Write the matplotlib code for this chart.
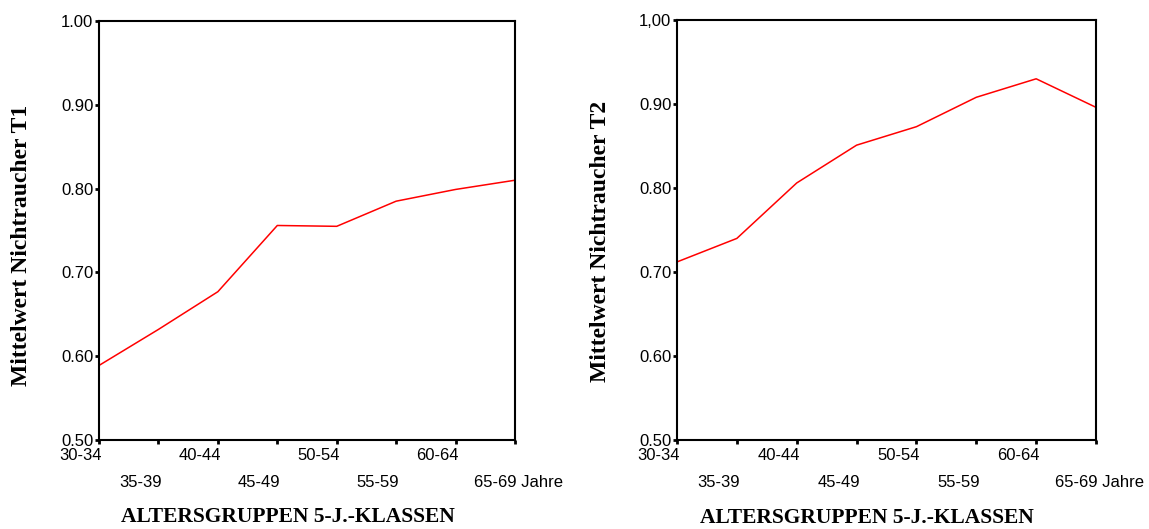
import matplotlib.pyplot as plt
from matplotlib.transforms import offset_copy

altersgruppen = ['30-34', '35-39', '40-44', '45-49', '50-54', '55-59', '60-64', '65-69 Jahre']
nichtraucher_t1 = [0.589, 0.632, 0.677, 0.756, 0.755, 0.785, 0.799, 0.810]
nichtraucher_t2 = [0.712, 0.740, 0.806, 0.851, 0.873, 0.908, 0.930, 0.896]
yticks = [0.5, 0.6, 0.7, 0.8, 0.9, 1.0]
yticklabels_t1 = ['0.50', '0.60', '0.70', '0.80', '0.90', '1.00']
yticklabels_t2 = ['0.50', '0.60', '0.70', '0.80', '0.90', '1,00']

serif = ['Liberation Serif', 'DejaVu Serif']
sans = ['Liberation Sans', 'DejaVu Sans']

fig = plt.figure(figsize=(11.49, 5.29), dpi=100)
ax1 = fig.add_axes([0.0862, 0.1682, 0.3620, 0.7921])
ax2 = fig.add_axes([0.5892, 0.1682, 0.3647, 0.7940])


def draw_panel(ax, values, ylabels, ylabel, ylab_x, ylab_y):
    x = list(range(len(altersgruppen)))
    ax.plot(x, values, color='#ff0000', linewidth=1.1)
    ax.set_xlim(0, len(altersgruppen) - 1)
    ax.set_ylim(0.5, 1.0)
    ax.set_yticks(yticks)
    ax.set_yticklabels(ylabels, fontfamily=sans, fontsize=12)
    ax.set_xticks(x)
    ax.set_xticklabels([])
    ax.tick_params(axis='both', direction='out', length=3, width=2, color='black', pad=1)
    for sp in ax.spines.values():
        sp.set_linewidth(1.5)
        sp.set_color('black')
    # staggered category labels, shifted left of their ticks
    for i, lab in enumerate(altersgruppen):
        row = i % 2
        if i == len(altersgruppen) - 1:
            tr = offset_copy(ax.get_xaxis_transform(), fig=fig, x=-41, y=-42, units='dots')
            ax.text(i, 0, lab, transform=tr, ha='left', va='center',
                    fontfamily=sans, fontsize=12)
        else:
            tr = offset_copy(ax.get_xaxis_transform(), fig=fig, x=-18,
                             y=-15 - 27 * row, units='dots')
            ax.text(i, 0, lab, transform=tr, ha='center', va='center',
                    fontfamily=sans, fontsize=12)
    fig.text(ylab_x, ylab_y, ylabel, rotation=90, ha='center', va='center',
             fontfamily=serif, fontweight='bold', fontsize=17)


draw_panel(ax1, nichtraucher_t1, yticklabels_t1, 'Mittelwert Nichtraucher T1', 0.0191, 0.537)
draw_panel(ax2, nichtraucher_t2, yticklabels_t2, 'Mittelwert Nichtraucher T2', 0.523, 0.543)

fig.text(0.2507, 0.004, 'ALTERSGRUPPEN 5-J.-KLASSEN', ha='center', va='bottom',
         fontfamily=serif, fontweight='bold', fontsize=15.5)
fig.text(0.7546, 0.002, 'ALTERSGRUPPEN 5-J.-KLASSEN', ha='center', va='bottom',
         fontfamily=serif, fontweight='bold', fontsize=15.5)

fig.savefig('out.png', dpi=100)
